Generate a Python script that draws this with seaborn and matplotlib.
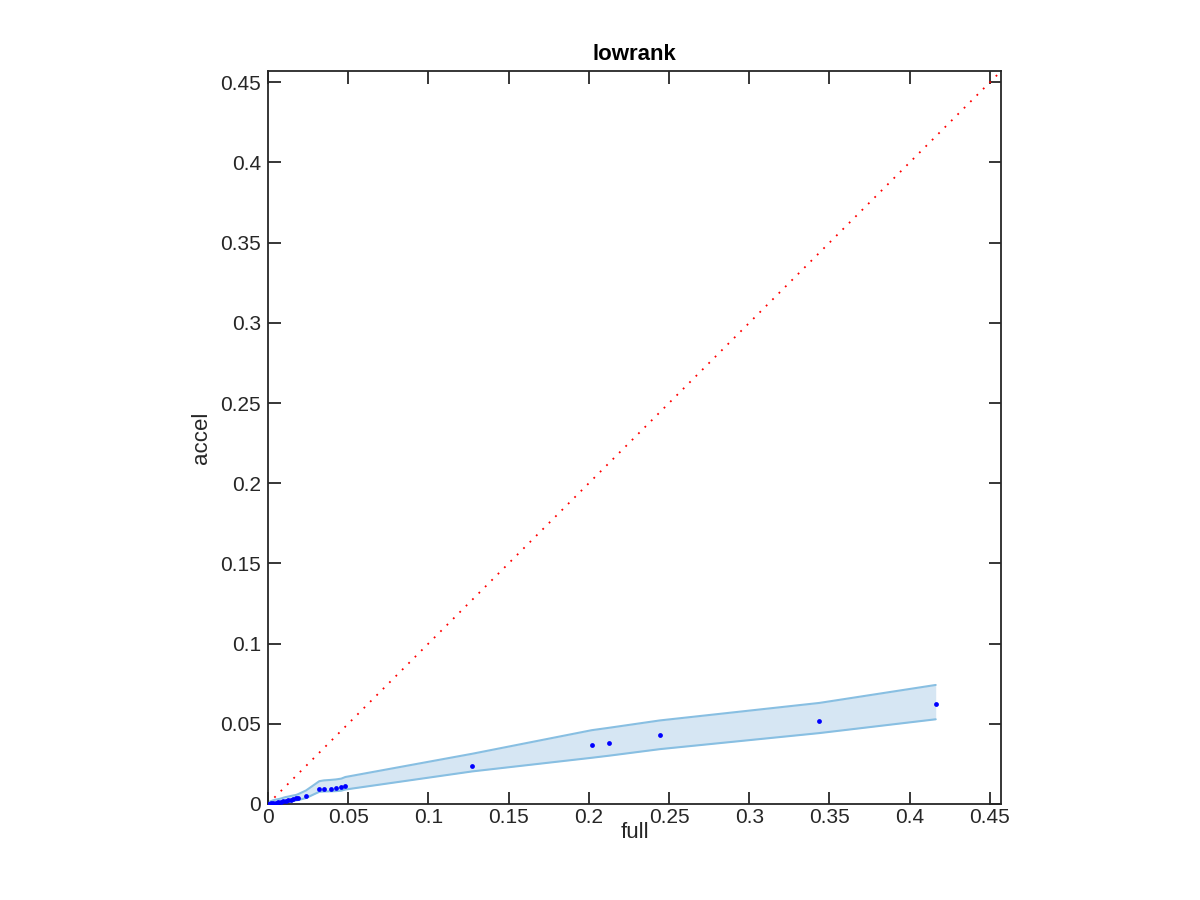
import numpy as np
import pandas as pd
import seaborn as sns
import matplotlib.pyplot as plt

# Data
full = [0, 0.0005, 0.001, 0.002, 0.003, 0.0048, 0.0065, 0.0081, 0.0096, 0.011,
        0.0127, 0.0143, 0.0158, 0.0175, 0.019, 0.0237, 0.032, 0.0349, 0.0391,
        0.0424, 0.0457, 0.0482, 0.1273, 0.2018, 0.2126, 0.2444, 0.3437, 0.4162]
accel = [0, 0.0001, 0.0002, 0.0003, 0.0004, 0.0006, 0.001, 0.0014, 0.0017, 0.0019,
         0.0023, 0.0027, 0.0033, 0.0037, 0.0039, 0.0052, 0.0092, 0.0092, 0.0095,
         0.01, 0.0106, 0.0114, 0.0239, 0.0366, 0.038, 0.0428, 0.0519, 0.0626]
band_upper = [0.0012, 0.0013, 0.0015, 0.0018, 0.0022, 0.0027, 0.003, 0.0034, 0.0039,
              0.0043, 0.0046, 0.005, 0.0053, 0.0056, 0.0062, 0.0084, 0.0142, 0.0147,
              0.015, 0.0153, 0.0158, 0.0168, 0.0313, 0.046, 0.0475, 0.0521, 0.063, 0.0742]
band_lower = [0, 0, 0, 0, 0.0001, 0.0002, 0.0003, 0.0004, 0.0006, 0.0009, 0.0012,
              0.0015, 0.0019, 0.0022, 0.0025, 0.0037, 0.0076, 0.0078, 0.0079, 0.008,
              0.0083, 0.009, 0.0203, 0.0288, 0.0301, 0.0342, 0.0442, 0.0528]
diag = [0, 0.457]
ticks = [0, 0.05, 0.1, 0.15, 0.2, 0.25, 0.3, 0.35, 0.4, 0.45]
tick_labels = ['0', '0.05', '0.1', '0.15', '0.2', '0.25', '0.3', '0.35', '0.4', '0.45']

df = pd.DataFrame({'full': full, 'accel': accel, 'upper': band_upper, 'lower': band_lower})

sns.set_style('ticks')
plt.rcParams['font.family'] = ['Liberation Sans', 'DejaVu Sans']
axcol = '#262626'

fig = plt.figure(figsize=(12, 9), dpi=100)
ax = fig.add_axes([0.2233, 0.1067, 0.611, 0.8144])

# shaded band
ax.fill_between(df['full'], df['lower'], df['upper'], color='#d6e6f3', linewidth=0, zorder=1)
sns.lineplot(data=df, x='full', y='upper', color='#88bfe2', linewidth=1.5, ax=ax, zorder=2)
sns.lineplot(data=df, x='full', y='lower', color='#88bfe2', linewidth=1.5, ax=ax, zorder=2)

# y = x reference
sns.lineplot(x=diag, y=diag, color='red', linewidth=1.3, linestyle=(0, (1, 4)), ax=ax, zorder=3)

# points
sns.scatterplot(data=df, x='full', y='accel', color='blue', s=12, linewidth=0, ax=ax, zorder=4)

ax.set_xlim(0, 0.457)
ax.set_ylim(0, 0.457)
ax.set_xticks(ticks)
ax.set_yticks(ticks)
ax.set_xticklabels(tick_labels)
ax.set_yticklabels(tick_labels)
ax.tick_params(direction='in', length=9, width=1.3, colors=axcol, labelsize=15,
               top=True, right=True)
ax.tick_params(axis='x', pad=3)
ax.tick_params(axis='y', pad=5)
for s in ax.spines.values():
    s.set_visible(True)
    s.set_color(axcol)
    s.set_linewidth(1.3)

ax.set_xlabel('full', fontsize=16, color=axcol, labelpad=-4)
ax.set_ylabel('accel', fontsize=16, color=axcol, labelpad=6)
ax.set_title('lowrank', fontsize=16, fontweight='bold', color='black', pad=8)

fig.savefig('out.png', dpi=100)
